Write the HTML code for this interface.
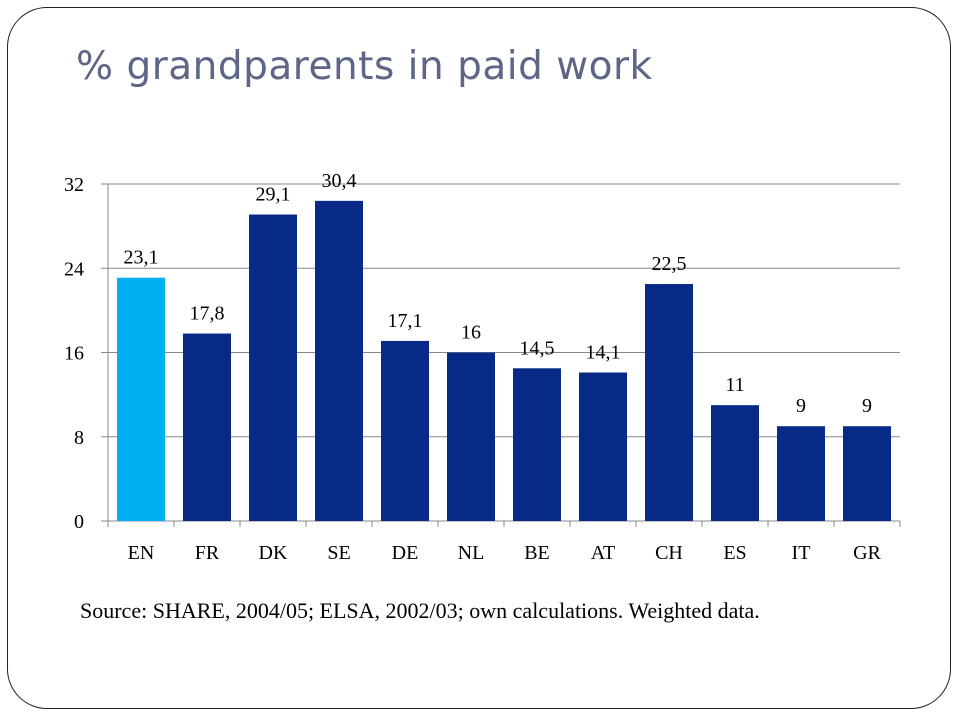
<!DOCTYPE html>
<html><head><meta charset="utf-8"><style>
body{margin:0;width:960px;height:720px;background:#fff;position:relative;overflow:hidden;font-family:"Liberation Serif",serif}
#frame{position:absolute;left:7px;top:7px;width:944px;height:702px;border:1.5px solid #222;border-radius:40px;box-sizing:border-box}
#title{position:absolute;left:76px;top:44px;font-family:"DejaVu Sans","Liberation Sans",sans-serif;font-size:39px;color:#5d6686;letter-spacing:0.5px;white-space:nowrap}
#src{position:absolute;left:80px;top:596px;font-size:22px;line-height:30px;width:800px;color:#000}
</style></head><body>
<div id="frame"></div>
<div id="title">% grandparents in paid work</div>
<svg id="chart" width="960" height="720" style="position:absolute;left:0;top:0"></svg>
<div id="src">Source: SHARE, 2004/05; ELSA, 2002/03; own calculations. Weighted data.</div>
<script>
const categories=["EN","FR","DK","SE","DE","NL","BE","AT","CH","ES","IT","GR"];
const values=[23.1,17.8,29.1,30.4,17.1,16,14.5,14.1,22.5,11,9,9];
const labels=["23,1","17,8","29,1","30,4","17,1","16","14,5","14,1","22,5","11","9","9"];
const ticks=[0,8,16,24,32];
const svg=document.getElementById('chart');
const NS="http://www.w3.org/2000/svg";
const x0=108,x1=900,y0=521,y1=184,ymax=32;
const y=v=>y0-(v/ymax)*(y0-y1);
const bw=(x1-x0)/categories.length;
function mk(t,a){const e=document.createElementNS(NS,t);for(const k in a)e.setAttribute(k,a[k]);svg.appendChild(e);return e;}
ticks.forEach(t=>{
 const g=mk('line',{x1:x0-7,x2:x1,y1:y(t),y2:y(t),stroke:'#888','stroke-width':1});
 
 
 const l=mk('text',{x:x0-24,y:y(t)+7,'text-anchor':'end','font-size':20,'font-family':'Liberation Serif'});
 l.textContent=t;
 
 
});
const ax=mk('line',{x1:x0,x2:x0,y1:y1,y2:y0+6,stroke:'#888'});


categories.forEach((c,i)=>{
 const cx=x0+bw*(i+0.5);
 const tk=mk('line',{x1:x0+bw*(i+1),x2:x0+bw*(i+1),y1:y0,y2:y0+6,stroke:'#888'});
 
 
 const b=mk('rect',{x:cx-24,y:y(values[i]),width:48,height:y0-y(values[i]),fill:i===0?'#00b0f0':'#062a85'});
 
 
 const v=mk('text',{x:cx,y:y(values[i])-14,'text-anchor':'middle','font-size':20,'font-family':'Liberation Serif'});
 v.textContent=labels[i];
 
 
 const t=mk('text',{x:cx,y:y0+38,'text-anchor':'middle','font-size':20,'font-family':'Liberation Serif'});
 t.textContent=c;
 
 
});
</script>
</body></html>
